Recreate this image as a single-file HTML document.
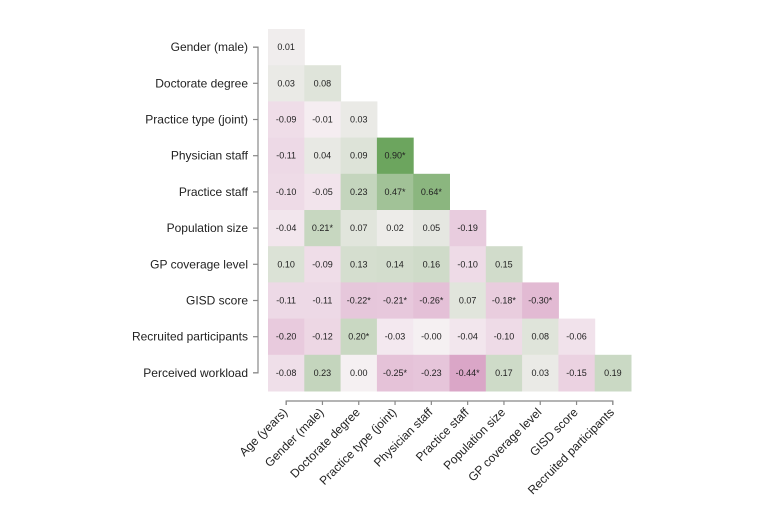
<!DOCTYPE html>
<html><head><meta charset="utf-8"><style>
body{margin:0;background:#fff;}
svg{display:block;font-family:"Liberation Sans",Arial,sans-serif;}
</style></head><body>
<svg id="c" width="774" height="517"></svg>
<script>
const rowLabels=["Gender (male)","Doctorate degree","Practice type (joint)","Physician staff","Practice staff","Population size","GP coverage level","GISD score","Recruited participants","Perceived workload"];
const colLabels=["Age (years)","Gender (male)","Doctorate degree","Practice type (joint)","Physician staff","Practice staff","Population size","GP coverage level","GISD score","Recruited participants"];
const values=[
[0.01],
[0.03,0.08],
[-0.09,-0.01,0.03],
[-0.11,0.04,0.09,0.90],
[-0.10,-0.05,0.23,0.47,0.64],
[-0.04,0.21,0.07,0.02,0.05,-0.19],
[0.10,-0.09,0.13,0.14,0.16,-0.10,0.15],
[-0.11,-0.11,-0.22,-0.21,-0.26,0.07,-0.18,-0.30],
[-0.20,-0.12,0.20,-0.03,-0.00,-0.04,-0.10,0.08,-0.06],
[-0.08,0.23,0.00,-0.25,-0.23,-0.44,0.17,0.03,-0.15,0.19]];
const labels=[
["0.01"],["0.03","0.08"],["-0.09","-0.01","0.03"],["-0.11","0.04","0.09","0.90*"],
["-0.10","-0.05","0.23","0.47*","0.64*"],["-0.04","0.21*","0.07","0.02","0.05","-0.19"],
["0.10","-0.09","0.13","0.14","0.16","-0.10","0.15"],
["-0.11","-0.11","-0.22*","-0.21*","-0.26*","0.07","-0.18*","-0.30*"],
["-0.20","-0.12","0.20*","-0.03","-0.00","-0.04","-0.10","0.08","-0.06"],
["-0.08","0.23","0.00","-0.25*","-0.23","-0.44*","0.17","0.03","-0.15","0.19"]];
const NS="http://www.w3.org/2000/svg";
const svg=document.getElementById('c');
const x0=268,cw=36.3,y0=29,rh=36.2;
const xPos=j=>x0+j*cw, yPos=i=>y0+i*rh;
function mix(a,b,t){return a.map((v,k)=>Math.round(v+(b[k]-v)*t));}
function color(v){
 if(v>=0){const t=Math.min(1,v/0.9);return 'rgb('+mix([245,240,242],[108,165,94],Math.pow(t,0.75)).join(',')+')';}
 const t=Math.min(1,-v/0.55);return 'rgb('+mix([246,240,243],[212,150,190],Math.pow(t,0.85)).join(',')+')';}
function el(t,a){const e=document.createElementNS(NS,t);for(const k in a)e.setAttribute(k,a[k]);svg.appendChild(e);return e;}
values.forEach((row,i)=>row.forEach((v,j)=>{
 const r=el('rect',{x:xPos(j),y:yPos(i),width:cw+0.5,height:rh+0.5,fill:color(v)});
 
 
 const t=el('text',{x:xPos(j)+cw/2,y:yPos(i)+rh/2+3,'text-anchor':'middle','font-size':'9',fill:'#222'});
 t.textContent=labels[i][j];
 
 
}));
const ya=el('path',{d:'M253 '+(yPos(0)+rh/2)+' H258 V'+(yPos(9)+rh/2)+' H253',fill:'none',stroke:'#888','stroke-width':1.2});


rowLabels.forEach((l,i)=>{
 el('line',{x1:253,x2:258,y1:yPos(i)+rh/2,y2:yPos(i)+rh/2,stroke:'#888','stroke-width':1.2});
 const t=el('text',{x:248,y:yPos(i)+rh/2+4,'text-anchor':'end','font-size':'12',fill:'#222'});
 t.textContent=l;
 
 
});
const xa=el('path',{d:'M'+(xPos(0)+cw/2)+' 405 V401 H'+(xPos(9)+cw/2)+' V405',fill:'none',stroke:'#888','stroke-width':1.2});


colLabels.forEach((l,j)=>{
 const cx=xPos(j)+cw/2;
 el('line',{x1:cx,x2:cx,y1:401,y2:405,stroke:'#888','stroke-width':1.2});
 const t=el('text',{x:cx+2,y:413,'text-anchor':'end','font-size':'12',fill:'#222',transform:'rotate(-45 '+(cx+2)+' 413)'});
 t.textContent=l;
 
 
});
</script>
</body></html>
